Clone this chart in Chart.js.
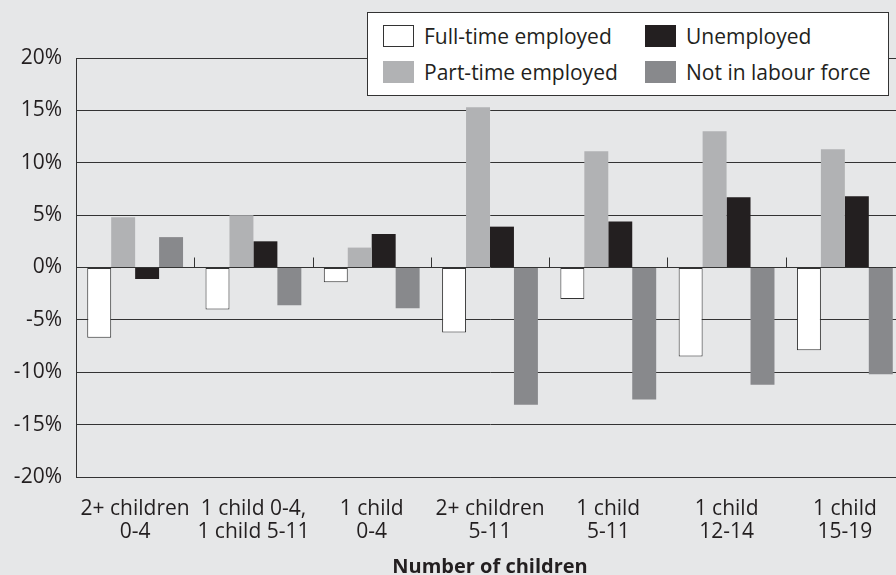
<!DOCTYPE html>
<html>
<head>
<meta charset="utf-8">
<script src="https://cdn.jsdelivr.net/npm/chart.js@4/dist/chart.umd.min.js"></script>
<style>
  html, body { margin: 0; padding: 0; background: #e6e7e8; overflow: hidden; }
  #wrap { position: relative; width: 910px; height: 575px; }
  #legend {
    position: absolute; left: 367px; top: 12px; width: 520px; height: 82px;
    background: #fff; border: 1px solid #333;
    font-family: "Open Sans", sans-serif; font-size: 21px; color: #231f20;
  }
  .item { position: absolute; display: flex; align-items: center; height: 26px; white-space: nowrap; }
  .sw { width: 31px; height: 22px; margin-right: 10px; box-sizing: border-box; }
</style>
</head>
<body>
<div id="wrap">
  <canvas id="chart" width="910" height="575"></canvas>
  <div id="legend"></div>
</div>
<script>
const categories = [
  ['2+ children', '0-4'],
  ['1 child 0-4,', '1 child 5-11'],
  ['1 child', '0-4'],
  ['2+ children', '5-11'],
  ['1 child', '5-11'],
  ['1 child', '12-14'],
  ['1 child', '15-19']
];
const fullTime    = [-6.7, -4.0, -1.4, -6.2, -3.0, -8.5, -7.9];
const partTime    = [4.8, 5.0, 1.9, 15.3, 11.1, 13.0, 11.3];
const unemployed  = [-1.1, 2.5, 3.2, 3.9, 4.4, 6.7, 6.8];
const notInLabour = [2.9, -3.6, -3.9, -13.1, -12.6, -11.2, -10.2];
const yTicks = [-20, -15, -10, -5, 0, 5, 10, 15, 20];

const FONT = '"Open Sans", sans-serif';
const TEXT = '#231f20';

// small ticks between groups, standing on the 0% line
const groupTicks = {
  id: 'groupTicks',
  afterDatasetsDraw(chart) {
    const x = chart.scales.x, y = chart.scales.y, ctx = chart.ctx;
    const y0 = y.getPixelForValue(0);
    ctx.save();
    ctx.strokeStyle = '#333';
    ctx.lineWidth = 1;
    for (let i = 1; i < categories.length; i++) {
      const px = Math.round((x.getPixelForValue(i - 1) + x.getPixelForValue(i)) / 2) + 0.5;
      ctx.beginPath();
      ctx.moveTo(px, y0);
      ctx.lineTo(px, y0 - 10);
      ctx.stroke();
    }
    ctx.restore();
  }
};

const chart = new Chart(document.getElementById('chart'), {
  type: 'bar',
  data: {
    labels: categories,
    datasets: [
      { label: 'Full-time employed', data: fullTime, backgroundColor: '#ffffff', borderColor: '#333', borderWidth: 1, borderSkipped: false },
      { label: 'Part-time employed', data: partTime, backgroundColor: '#b1b2b4', borderWidth: 0 },
      { label: 'Unemployed', data: unemployed, backgroundColor: '#231f20', borderWidth: 0 },
      { label: 'Not in labour force', data: notInLabour, backgroundColor: '#88898c', borderWidth: 0 }
    ]
  },
  options: {
    responsive: false,
    animation: false,
    categoryPercentage: 0.81,
    barPercentage: 1,
    layout: { padding: { top: 58, left: 0, right: 6, bottom: 0 } },
    plugins: { legend: { display: false }, tooltip: { enabled: false } },
    scales: {
      x: {
        afterFit(s) { s.height = 98; },
        grid: { display: false, drawTicks: false },
        border: { display: true, color: '#333', width: 1 },
        ticks: { color: TEXT, font: { family: FONT, size: 21, lineHeight: 1.07 }, padding: 21, maxRotation: 0, autoSkip: false },
        title: { display: true, text: 'Number of children', color: TEXT, font: { family: FONT, size: 20, weight: 'bold', lineHeight: 0.8 }, padding: { top: 0, bottom: 0 } }
      },
      y: {
        min: -20, max: 20,
        afterFit(s) { s.width = 76; },
        afterBuildTicks(s) { s.ticks = yTicks.map(v => ({ value: v })); },
        grid: { color: '#333', lineWidth: 1, drawTicks: false },
        border: { display: true, color: '#333', width: 1 },
        ticks: { color: TEXT, font: { family: FONT, size: 21 }, padding: 14, callback: v => v + '%' }
      }
    }
  },
  plugins: [groupTicks]
});

// two-column legend box, order as in the original
const legendOrder = [0, 2, 1, 3];
const legendEl = document.getElementById('legend');
legendOrder.forEach((di, k) => {
  const ds = chart.data.datasets[di];
  const col = k % 2, row = Math.floor(k / 2);
  const item = document.createElement('div');
  item.className = 'item';
  item.style.left = (col ? 277 : 15) + 'px';
  item.style.top = (row ? 46 : 10) + 'px';
  const sw = document.createElement('div');
  sw.className = 'sw';
  sw.style.background = ds.backgroundColor;
  if (ds.borderWidth) sw.style.border = '1px solid #333';
  const txt = document.createElement('span');
  txt.textContent = ds.label;
  item.appendChild(sw);
  item.appendChild(txt);
  legendEl.appendChild(item);
});
</script>
</body>
</html>
